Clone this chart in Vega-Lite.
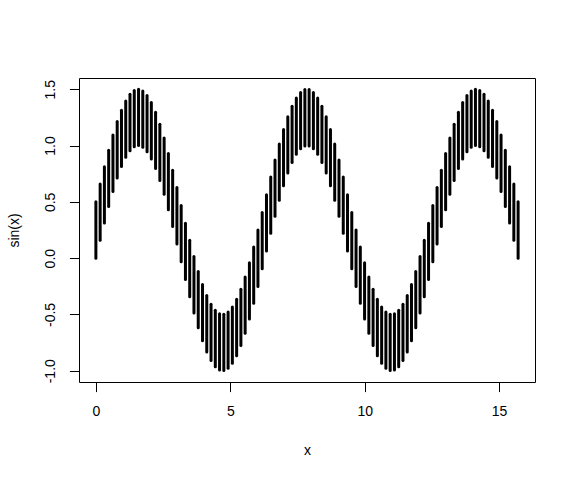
{
  "$schema": "https://vega.github.io/schema/vega-lite/v6.json",
  "width": 456,
  "height": 304,
  "autosize": {"type": "none"},
  "padding": {"left": 79, "top": 78, "right": 41, "bottom": 98},
  "background": "white",
  "config": {
    "view": {"stroke": "black", "strokeWidth": 1},
    "font": "Liberation Sans"
  },
  "data": {
    "values": [
      {"x": 0, "lo": 0, "hi": 0.5},
      {"x": 0.159, "lo": 0.158, "hi": 0.658},
      {"x": 0.317, "lo": 0.312, "hi": 0.812},
      {"x": 0.476, "lo": 0.4582, "hi": 0.9582},
      {"x": 0.635, "lo": 0.5929, "hi": 1.0929},
      {"x": 0.793, "lo": 0.7127, "hi": 1.2127},
      {"x": 0.952, "lo": 0.8146, "hi": 1.3146},
      {"x": 1.111, "lo": 0.896, "hi": 1.396},
      {"x": 1.269, "lo": 0.9549, "hi": 1.4549},
      {"x": 1.428, "lo": 0.9898, "hi": 1.4898},
      {"x": 1.587, "lo": 0.9999, "hi": 1.4999},
      {"x": 1.745, "lo": 0.9848, "hi": 1.4848},
      {"x": 1.904, "lo": 0.945, "hi": 1.445},
      {"x": 2.063, "lo": 0.8815, "hi": 1.3815},
      {"x": 2.221, "lo": 0.7958, "hi": 1.2958},
      {"x": 2.38, "lo": 0.6901, "hi": 1.1901},
      {"x": 2.539, "lo": 0.5671, "hi": 1.0671},
      {"x": 2.697, "lo": 0.4298, "hi": 0.9298},
      {"x": 2.856, "lo": 0.2817, "hi": 0.7817},
      {"x": 3.015, "lo": 0.1266, "hi": 0.6266},
      {"x": 3.173, "lo": -0.0317, "hi": 0.4683},
      {"x": 3.332, "lo": -0.1893, "hi": 0.3107},
      {"x": 3.491, "lo": -0.342, "hi": 0.158},
      {"x": 3.649, "lo": -0.4862, "hi": 0.0138},
      {"x": 3.808, "lo": -0.6182, "hi": -0.1182},
      {"x": 3.967, "lo": -0.7346, "hi": -0.2346},
      {"x": 4.125, "lo": -0.8326, "hi": -0.3326},
      {"x": 4.284, "lo": -0.9096, "hi": -0.4096},
      {"x": 4.443, "lo": -0.9638, "hi": -0.4638},
      {"x": 4.601, "lo": -0.9938, "hi": -0.4938},
      {"x": 4.76, "lo": -0.9989, "hi": -0.4989},
      {"x": 4.919, "lo": -0.9788, "hi": -0.4788},
      {"x": 5.077, "lo": -0.9341, "hi": -0.4341},
      {"x": 5.236, "lo": -0.866, "hi": -0.366},
      {"x": 5.395, "lo": -0.7762, "hi": -0.2762},
      {"x": 5.553, "lo": -0.6668, "hi": -0.1668},
      {"x": 5.712, "lo": -0.5406, "hi": -0.0406},
      {"x": 5.871, "lo": -0.4009, "hi": 0.0991},
      {"x": 6.029, "lo": -0.2511, "hi": 0.2489},
      {"x": 6.188, "lo": -0.0951, "hi": 0.4049},
      {"x": 6.347, "lo": 0.0634, "hi": 0.5634},
      {"x": 6.505, "lo": 0.2203, "hi": 0.7203},
      {"x": 6.664, "lo": 0.3717, "hi": 0.8717},
      {"x": 6.823, "lo": 0.5137, "hi": 1.0137},
      {"x": 6.981, "lo": 0.6428, "hi": 1.1428},
      {"x": 7.14, "lo": 0.7558, "hi": 1.2558},
      {"x": 7.299, "lo": 0.8497, "hi": 1.3497},
      {"x": 7.457, "lo": 0.9224, "hi": 1.4224},
      {"x": 7.616, "lo": 0.9718, "hi": 1.4718},
      {"x": 7.775, "lo": 0.9969, "hi": 1.4969},
      {"x": 7.933, "lo": 0.9969, "hi": 1.4969},
      {"x": 8.092, "lo": 0.9718, "hi": 1.4718},
      {"x": 8.251, "lo": 0.9224, "hi": 1.4224},
      {"x": 8.409, "lo": 0.8497, "hi": 1.3497},
      {"x": 8.568, "lo": 0.7558, "hi": 1.2558},
      {"x": 8.727, "lo": 0.6428, "hi": 1.1428},
      {"x": 8.885, "lo": 0.5137, "hi": 1.0137},
      {"x": 9.044, "lo": 0.3717, "hi": 0.8717},
      {"x": 9.203, "lo": 0.2203, "hi": 0.7203},
      {"x": 9.361, "lo": 0.0634, "hi": 0.5634},
      {"x": 9.52, "lo": -0.0951, "hi": 0.4049},
      {"x": 9.679, "lo": -0.2511, "hi": 0.2489},
      {"x": 9.837, "lo": -0.4009, "hi": 0.0991},
      {"x": 9.996, "lo": -0.5406, "hi": -0.0406},
      {"x": 10.155, "lo": -0.6668, "hi": -0.1668},
      {"x": 10.313, "lo": -0.7762, "hi": -0.2762},
      {"x": 10.472, "lo": -0.866, "hi": -0.366},
      {"x": 10.631, "lo": -0.9341, "hi": -0.4341},
      {"x": 10.789, "lo": -0.9788, "hi": -0.4788},
      {"x": 10.948, "lo": -0.9989, "hi": -0.4989},
      {"x": 11.107, "lo": -0.9938, "hi": -0.4938},
      {"x": 11.265, "lo": -0.9638, "hi": -0.4638},
      {"x": 11.424, "lo": -0.9096, "hi": -0.4096},
      {"x": 11.583, "lo": -0.8326, "hi": -0.3326},
      {"x": 11.741, "lo": -0.7346, "hi": -0.2346},
      {"x": 11.9, "lo": -0.6182, "hi": -0.1182},
      {"x": 12.059, "lo": -0.4862, "hi": 0.0138},
      {"x": 12.217, "lo": -0.342, "hi": 0.158},
      {"x": 12.376, "lo": -0.1893, "hi": 0.3107},
      {"x": 12.535, "lo": -0.0317, "hi": 0.4683},
      {"x": 12.693, "lo": 0.1266, "hi": 0.6266},
      {"x": 12.852, "lo": 0.2817, "hi": 0.7817},
      {"x": 13.011, "lo": 0.4298, "hi": 0.9298},
      {"x": 13.169, "lo": 0.5671, "hi": 1.0671},
      {"x": 13.328, "lo": 0.6901, "hi": 1.1901},
      {"x": 13.487, "lo": 0.7958, "hi": 1.2958},
      {"x": 13.645, "lo": 0.8815, "hi": 1.3815},
      {"x": 13.804, "lo": 0.945, "hi": 1.445},
      {"x": 13.963, "lo": 0.9848, "hi": 1.4848},
      {"x": 14.121, "lo": 0.9999, "hi": 1.4999},
      {"x": 14.28, "lo": 0.9898, "hi": 1.4898},
      {"x": 14.439, "lo": 0.9549, "hi": 1.4549},
      {"x": 14.597, "lo": 0.896, "hi": 1.396},
      {"x": 14.756, "lo": 0.8146, "hi": 1.3146},
      {"x": 14.915, "lo": 0.7127, "hi": 1.2127},
      {"x": 15.073, "lo": 0.5929, "hi": 1.0929},
      {"x": 15.232, "lo": 0.4582, "hi": 0.9582},
      {"x": 15.391, "lo": 0.312, "hi": 0.812},
      {"x": 15.549, "lo": 0.158, "hi": 0.658},
      {"x": 15.708, "lo": 0, "hi": 0.5}
    ]
  },
  "mark": {"type": "rule", "color": "black", "strokeWidth": 3, "strokeCap": "round"},
  "encoding": {
    "x": {
      "field": "x",
      "type": "quantitative",
      "scale": {"domain": [-0.628, 16.336], "nice": false, "zero": false},
      "axis": {
        "values": [0, 5, 10, 15],
        "labelExpr": "format(datum.value, 'd')",
        "domain": false,
        "grid": false,
        "tickSize": 9.6,
        "tickColor": "black",
        "tickWidth": 1,
        "labelFontSize": 14,
        "labelColor": "black",
        "labelPadding": 13,
        "labelFlush": false,
        "title": "x",
        "titleFontSize": 14,
        "titleFontWeight": "normal",
        "titleColor": "black",
        "titlePadding": 25
      }
    },
    "y": {
      "field": "lo",
      "type": "quantitative",
      "scale": {"domain": [-1.1, 1.6], "nice": false, "zero": false},
      "axis": {
        "values": [-1, -0.5, 0, 0.5, 1, 1.5],
        "labelExpr": "datum.value < 0 ? '-' + format(-datum.value, '.1f') : format(datum.value, '.1f')",
        "domain": false,
        "grid": false,
        "tickSize": 9.6,
        "tickColor": "black",
        "tickWidth": 1,
        "labelFontSize": 14,
        "labelColor": "black",
        "labelAngle": -90,
        "labelAlign": "center",
        "labelBaseline": "alphabetic",
        "labelPadding": 15,
        "labelFlush": false,
        "title": "sin(x)",
        "titleFontSize": 14,
        "titleFontWeight": "normal",
        "titleColor": "black",
        "titleAngle": -90,
        "titleAlign": "center",
        "titleBaseline": "alphabetic",
        "titleX": -61,
        "titleY": 152
      }
    },
    "y2": {"field": "hi"}
  }
}
